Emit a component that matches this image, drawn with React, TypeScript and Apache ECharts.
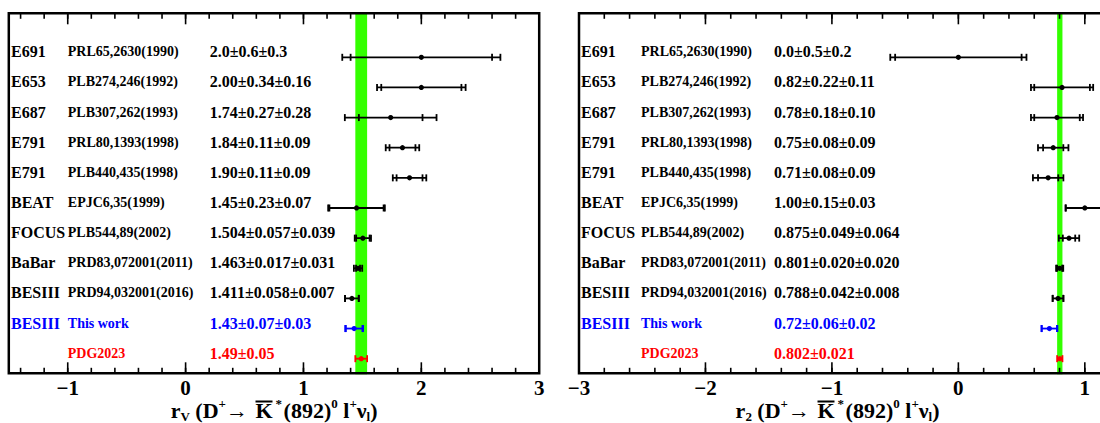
import React, { useEffect, useRef } from "react";
import * as echarts from "echarts";

// ---------- data ----------
const experiments = ["E691", "E653", "E687", "E791", "E791", "BEAT", "FOCUS", "BaBar", "BESIII", "BESIII", ""];
const references = [
  "PRL65,2630(1990)", "PLB274,246(1992)", "PLB307,262(1993)", "PRL80,1393(1998)", "PLB440,435(1998)",
  "EPJC6,35(1999)", "PLB544,89(2002)", "PRD83,072001(2011)", "PRD94,032001(2016)", "This work", "PDG2023",
];
// 0 = previous measurement, 1 = this work, 2 = PDG average
const rowKinds = [0, 0, 0, 0, 0, 0, 0, 0, 0, 1, 2];

const rvValues = [2.0, 2.0, 1.74, 1.84, 1.9, 1.45, 1.504, 1.463, 1.411, 1.43, 1.49];
const rvStat = [0.6, 0.34, 0.27, 0.11, 0.11, 0.23, 0.057, 0.017, 0.058, 0.07, 0.05];
const rvSyst = [0.3, 0.16, 0.28, 0.09, 0.09, 0.07, 0.039, 0.031, 0.007, 0.03, 0];
const rvTexts = [
  "2.0±0.6±0.3", "2.00±0.34±0.16", "1.74±0.27±0.28", "1.84±0.11±0.09", "1.90±0.11±0.09",
  "1.45±0.23±0.07", "1.504±0.057±0.039", "1.463±0.017±0.031", "1.411±0.058±0.007", "1.43±0.07±0.03", "1.49±0.05",
];

const r2Values = [0.0, 0.82, 0.78, 0.75, 0.71, 1.0, 0.875, 0.801, 0.788, 0.72, 0.802];
const r2Stat = [0.5, 0.22, 0.18, 0.08, 0.08, 0.15, 0.049, 0.02, 0.042, 0.06, 0.021];
const r2Syst = [0.2, 0.11, 0.1, 0.09, 0.09, 0.03, 0.064, 0.02, 0.008, 0.02, 0];
const r2Texts = [
  "0.0±0.5±0.2", "0.82±0.22±0.11", "0.78±0.18±0.10", "0.75±0.08±0.09", "0.71±0.08±0.09",
  "1.00±0.15±0.03", "0.875±0.049±0.064", "0.801±0.020±0.020", "0.788±0.042±0.008", "0.72±0.06±0.02", "0.802±0.021",
];

const rvRange = [-1.5, 3];
const r2Range = [-3, 1.12];
const rvMajorTicks = [-1, 0, 1, 2, 3];
const r2MajorTicks = [-3, -2, -1, 0, 1];
const rvMinorTicks = [-1.4, -1.2, -1.0, -0.8, -0.6, -0.4, -0.2, 0, 0.2, 0.4, 0.6, 0.8, 1.0, 1.2, 1.4, 1.6, 1.8, 2.0, 2.2, 2.4, 2.6, 2.8];
const r2MinorTicks = [-2.8, -2.6, -2.4, -2.2, -2.0, -1.8, -1.6, -1.4, -1.2, -1.0, -0.8, -0.6, -0.4, -0.2, 0, 0.2, 0.4, 0.6, 0.8, 1.0];

// ---------- styling ----------
const FONT = '"Liberation Serif", "Times New Roman", serif';
const kindColors = ["#000000", "#0000ff", "#ff0000"];
const BAND = "#33ff00";
const PDG_ROW = 10;

const Y_MIN = -1.46;
const Y_MAX = 10.485;

const panels = [
  {
    grid: { left: 8.8, top: 13.3, width: 530.4, height: 360 },
    closedRight: true,
    range: rvRange, major: rvMajorTicks, minor: rvMinorTicks,
    values: rvValues, stat: rvStat, syst: rvSyst, texts: rvTexts,
    cols: { name: 2.2, ref: 59, value: 201 },
  },
  {
    grid: { left: 579, top: 13.3, width: 521, height: 360 },
    closedRight: false,
    range: r2Range, major: r2MajorTicks, minor: r2MinorTicks,
    values: r2Values, stat: r2Stat, syst: r2Syst, texts: r2Texts,
    cols: { name: 2, ref: 62, value: 195 },
  },
];

function minusFmt(v: number) {
  return String(v).replace("-", "\u2212");
}

function buildOption() {
  const grids: any[] = [];
  const xAxes: any[] = [];
  const yAxes: any[] = [];
  const series: any[] = [];

  panels.forEach((p, gi) => {
    grids.push({ ...p.grid, show: false, containLabel: false });
    xAxes.push({ gridIndex: gi, type: "value", min: p.range[0], max: p.range[1], show: false });
    yAxes.push({ gridIndex: gi, type: "value", min: Y_MIN, max: Y_MAX, inverse: true, show: false });

    // green PDG band
    const lo = p.values[PDG_ROW] - p.stat[PDG_ROW];
    const hi = p.values[PDG_ROW] + p.stat[PDG_ROW];
    series.push({
      type: "custom",
      xAxisIndex: gi,
      yAxisIndex: gi,
      z: 1,
      silent: true,
      clip: false,
      data: [[lo, hi]],
      renderItem: (params: any, api: any) => {
        const cs = params.coordSys;
        const x1 = api.coord([api.value(0), 0])[0];
        const x2 = api.coord([api.value(1), 0])[0];
        return {
          type: "rect",
          shape: { x: x1, y: cs.y - 1, width: x2 - x1, height: cs.height + 2 },
          style: { fill: BAND },
        };
      },
    });

    // frame
    series.push({
      type: "custom",
      xAxisIndex: gi,
      yAxisIndex: gi,
      z: 2,
      silent: true,
      clip: false,
      data: [[0]],
      renderItem: (params: any) => {
        const cs = params.coordSys;
        const x0 = cs.x, y0 = cs.y, x1 = cs.x + cs.width, y1 = cs.y + cs.height;
        const style = { stroke: "#000", lineWidth: 2.5, fill: null };
        if (p.closedRight) {
          return { type: "rect", shape: { x: x0, y: y0, width: x1 - x0, height: y1 - y0 }, style };
        }
        return {
          type: "polyline",
          shape: { points: [[x1 + 20, y0], [x0, y0], [x0, y1], [x1 + 20, y1]] },
          style,
        };
      },
    });

    // ticks (major with labels, minor)
    const tickSeries = (vals: number[], len: number, withLabel: boolean) => ({
      type: "custom",
      xAxisIndex: gi,
      yAxisIndex: gi,
      z: 2,
      silent: true,
      clip: false,
      data: vals.map((v) => [v]),
      renderItem: (params: any, api: any) => {
        const cs = params.coordSys;
        const x = api.coord([api.value(0), 0])[0];
        const top = cs.y;
        const bot = cs.y + cs.height;
        const ls = { stroke: "#000", lineWidth: 1.6 };
        const children: any[] = [
          { type: "line", shape: { x1: x, y1: top, x2: x, y2: top + len }, style: ls },
          { type: "line", shape: { x1: x, y1: bot, x2: x, y2: bot - len }, style: ls },
        ];
        if (withLabel) {
          children.push({
            type: "text",
            style: {
              text: minusFmt(api.value(0)),
              x,
              y: bot + 14.6,
              align: "center",
              verticalAlign: "middle",
              fill: "#000",
              fontFamily: FONT,
              fontWeight: "bold",
              fontSize: 21,
            },
          });
        }
        return { type: "group", children };
      },
    });
    series.push(tickSeries(p.minor, 5.5, false));
    series.push(tickSeries(p.major, 11, true));

    // error bars
    series.push({
      type: "custom",
      xAxisIndex: gi,
      yAxisIndex: gi,
      z: 3,
      clip: false,
      data: p.values.map((v, i) => [v, i, p.stat[i], p.syst[i], rowKinds[i]]),
      renderItem: (params: any, api: any) => {
        const v = api.value(0);
        const row = api.value(1);
        const st = api.value(2);
        const sy = api.value(3);
        const color = kindColors[api.value(4)];
        const tot = Math.sqrt(st * st + sy * sy);
        const y = api.coord([v, row])[1];
        const xc = api.coord([v, row])[0];
        const xl = api.coord([v - tot, row])[0];
        const xr = api.coord([v + tot, row])[0];
        const xsl = api.coord([v - st, row])[0];
        const xsr = api.coord([v + st, row])[0];
        const h = 3.5;
        const ls = { stroke: color, lineWidth: 1.8 };
        const children: any[] = [
          { type: "line", shape: { x1: xl, y1: y, x2: xr, y2: y }, style: ls },
          { type: "line", shape: { x1: xl, y1: y - h, x2: xl, y2: y + h }, style: ls },
          { type: "line", shape: { x1: xr, y1: y - h, x2: xr, y2: y + h }, style: ls },
        ];
        if (sy > 0) {
          children.push({ type: "line", shape: { x1: xsl, y1: y - h, x2: xsl, y2: y + h }, style: ls });
          children.push({ type: "line", shape: { x1: xsr, y1: y - h, x2: xsr, y2: y + h }, style: ls });
        }
        children.push({ type: "circle", shape: { cx: xc, cy: y, r: 2.6 }, style: { fill: color } });
        return { type: "group", children };
      },
    });

    // row labels
    series.push({
      type: "custom",
      xAxisIndex: gi,
      yAxisIndex: gi,
      z: 4,
      clip: false,
      silent: true,
      data: experiments.map((_, i) => [p.range[0], i]),
      renderItem: (params: any, api: any) => {
        const cs = params.coordSys;
        const row = api.value(1);
        const y = api.coord([p.range[0], row])[1] - 5.5;
        const color = kindColors[rowKinds[row]];
        const mk = (text: string, dx: number, size: number) => ({
          type: "text",
          style: {
            text,
            x: cs.x + dx,
            y,
            align: "left",
            verticalAlign: "middle",
            fill: color,
            fontFamily: FONT,
            fontWeight: "bold",
            fontSize: size,
          },
        });
        return {
          type: "group",
          children: [
            mk(experiments[row], p.cols.name, 16),
            mk(references[row], p.cols.ref, 14),
            mk(p.texts[row], p.cols.value, 16),
          ],
        };
      },
    });
  });

  const rich = {
    sub: { fontSize: 13, lineHeight: 13, verticalAlign: "bottom", fontFamily: FONT, fontWeight: "bold", fill: "#000" },
    sup: { fontSize: 13, lineHeight: 13, verticalAlign: "top", fontFamily: FONT, fontWeight: "bold", fill: "#000" },
    star: { fontSize: 13, lineHeight: 13, verticalAlign: "top", fontFamily: FONT, fontWeight: "bold", fill: "#000", padding: [0, 1.5, 0, 3] },
  };
  const titleStyle = (text: string, x: number, align: string) => ({
    text,
    x,
    y: 410,
    align,
    verticalAlign: "middle",
    fontFamily: FONT,
    fontWeight: "bold",
    fontSize: 22,
    lineHeight: 26,
    fill: "#000",
    rich,
  });
  const makeTitle = (sub: string, aEnd: number, kLeft: number) => [
    { type: "text", silent: true, style: titleStyle(`r{sub|${sub}} (D{sup|+}\u2192`, aEnd, "right") },
    {
      type: "line",
      silent: true,
      shape: { x1: kLeft, y1: 401.5, x2: kLeft + 17, y2: 401.5 },
      style: { stroke: "#000", lineWidth: 2 },
    },
    { type: "text", silent: true, style: titleStyle("K{star|*}(892){sup|0} l{sup|+}\u03bd{sub|l})", kLeft, "left") },
  ];

  return {
    animation: false,
    backgroundColor: "#ffffff",
    grid: grids,
    xAxis: xAxes,
    yAxis: yAxes,
    series,
    graphic: [...makeTitle("V", 248, 255.5), ...makeTitle("2", 810, 817.5)],
  };
}

export default function App() {
  const ref = useRef<HTMLDivElement>(null);
  useEffect(() => {
    if (!ref.current) return;
    const chart = echarts.init(ref.current, undefined, { renderer: "svg" });
    chart.setOption(buildOption() as any);
    return () => chart.dispose();
  }, []);
  return (
    <div
      ref={ref}
      style={{ position: "fixed", left: 0, top: 0, width: 1100, height: 423, background: "#fff" }}
    />
  );
}
